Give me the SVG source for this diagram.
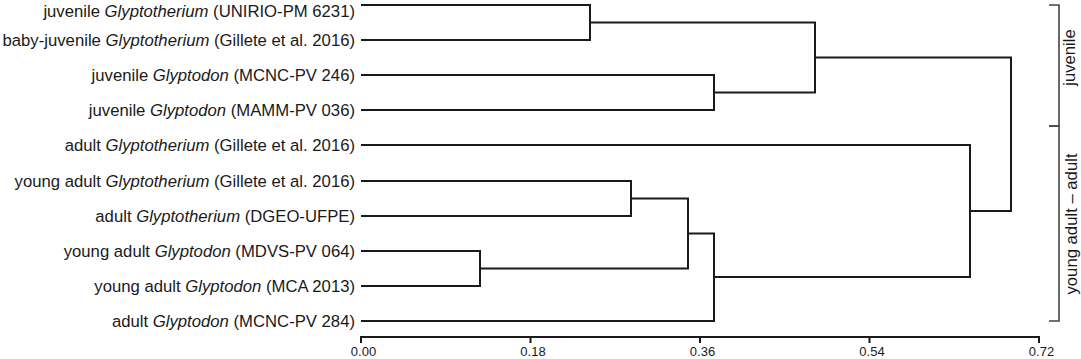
<svg xmlns="http://www.w3.org/2000/svg" width="1081" height="359" viewBox="0 0 1081 359">
<style>
  .lbl { font-family: "Liberation Sans", Arial, sans-serif; font-size: 16.7px; fill: #1a1a1a; text-anchor: end; }
  .lbl tspan.it { font-style: italic; }
  .ax { font-family: "Liberation Sans", Arial, sans-serif; font-size: 13px; fill: #1a1a1a; text-anchor: middle; }
  .grp { font-family: "Liberation Sans", Arial, sans-serif; font-size: 16.7px; fill: #1a1a1a; text-anchor: middle; }
  .br { fill: none; stroke: #1a1a1a; stroke-width: 2; }
  .axis { fill: none; stroke: #1a1a1a; stroke-width: 2; }
  .brk { fill: none; stroke: #444; stroke-width: 1.6; }
</style>
<rect width="1081" height="359" fill="#ffffff"/>
<g id="leaf0"><text class="lbl" x="355" y="16.5">juvenile <tspan class="it">Glyptotherium</tspan> (UNIRIO-PM 6231)</text></g>
<g id="leaf1"><text class="lbl" x="355" y="46">baby-juvenile <tspan class="it">Glyptotherium</tspan> (Gillete et al. 2016)</text></g>
<g id="leaf2"><text class="lbl" x="355" y="81">juvenile <tspan class="it">Glyptodon</tspan> (MCNC-PV 246)</text></g>
<g id="leaf3"><text class="lbl" x="355" y="116">juvenile <tspan class="it">Glyptodon</tspan> (MAMM-PV 036)</text></g>
<g id="leaf4"><text class="lbl" x="355" y="151">adult <tspan class="it">Glyptotherium</tspan> (Gillete et al. 2016)</text></g>
<g id="leaf5"><text class="lbl" x="355" y="187">young adult <tspan class="it">Glyptotherium</tspan> (Gillete et al. 2016)</text></g>
<g id="leaf6"><text class="lbl" x="355" y="222">adult <tspan class="it">Glyptotherium</tspan> (DGEO-UFPE)</text></g>
<g id="leaf7"><text class="lbl" x="355" y="257">young adult <tspan class="it">Glyptodon</tspan> (MDVS-PV 064)</text></g>
<g id="leaf8"><text class="lbl" x="355" y="292">young adult <tspan class="it">Glyptodon</tspan> (MCA 2013)</text></g>
<g id="leaf9"><text class="lbl" x="355" y="327">adult <tspan class="it">Glyptodon</tspan> (MCNC-PV 284)</text></g>
<g id="connectors">
  <path class="br" d="M361,5 H590 V40 H361"/>
  <path class="br" d="M361,75 H714 V110 H361"/>
  <path class="br" d="M590,22.5 H815 V92.5 H714"/>
  <path class="br" d="M361,181 H631 V216 H361"/>
  <path class="br" d="M361,251 H480 V286 H361"/>
  <path class="br" d="M631,198.5 H688 V268.5 H480"/>
  <path class="br" d="M688,233.5 H714 V321 H361"/>
  <path class="br" d="M361,145 H970 V277 H714"/>
  <path class="br" d="M815,57.5 H1011 V211 H970"/>
</g>
<g id="axis">
  <path class="axis" d="M361,343 V337 H1039 V343 M530.5,337 V343 M700,337 V343 M869.5,337 V343"/>
  <text class="ax" x="363.5" y="356">0.00</text>
  <text class="ax" x="533" y="356">0.18</text>
  <text class="ax" x="702.5" y="356">0.36</text>
  <text class="ax" x="872" y="356">0.54</text>
  <text class="ax" x="1041.5" y="356">0.72</text>
</g>
<g id="group-juvenile">
  <path class="brk" d="M1049,5 H1059 V126 H1049"/>
  <text class="grp" transform="translate(1075,57.5) rotate(-90)">juvenile</text>
</g>
<g id="group-adult">
  <path class="brk" d="M1049,126 H1059 V321 H1049"/>
  <text class="grp" transform="translate(1077,224) rotate(-90)">young adult – adult</text>
</g>
</svg>
